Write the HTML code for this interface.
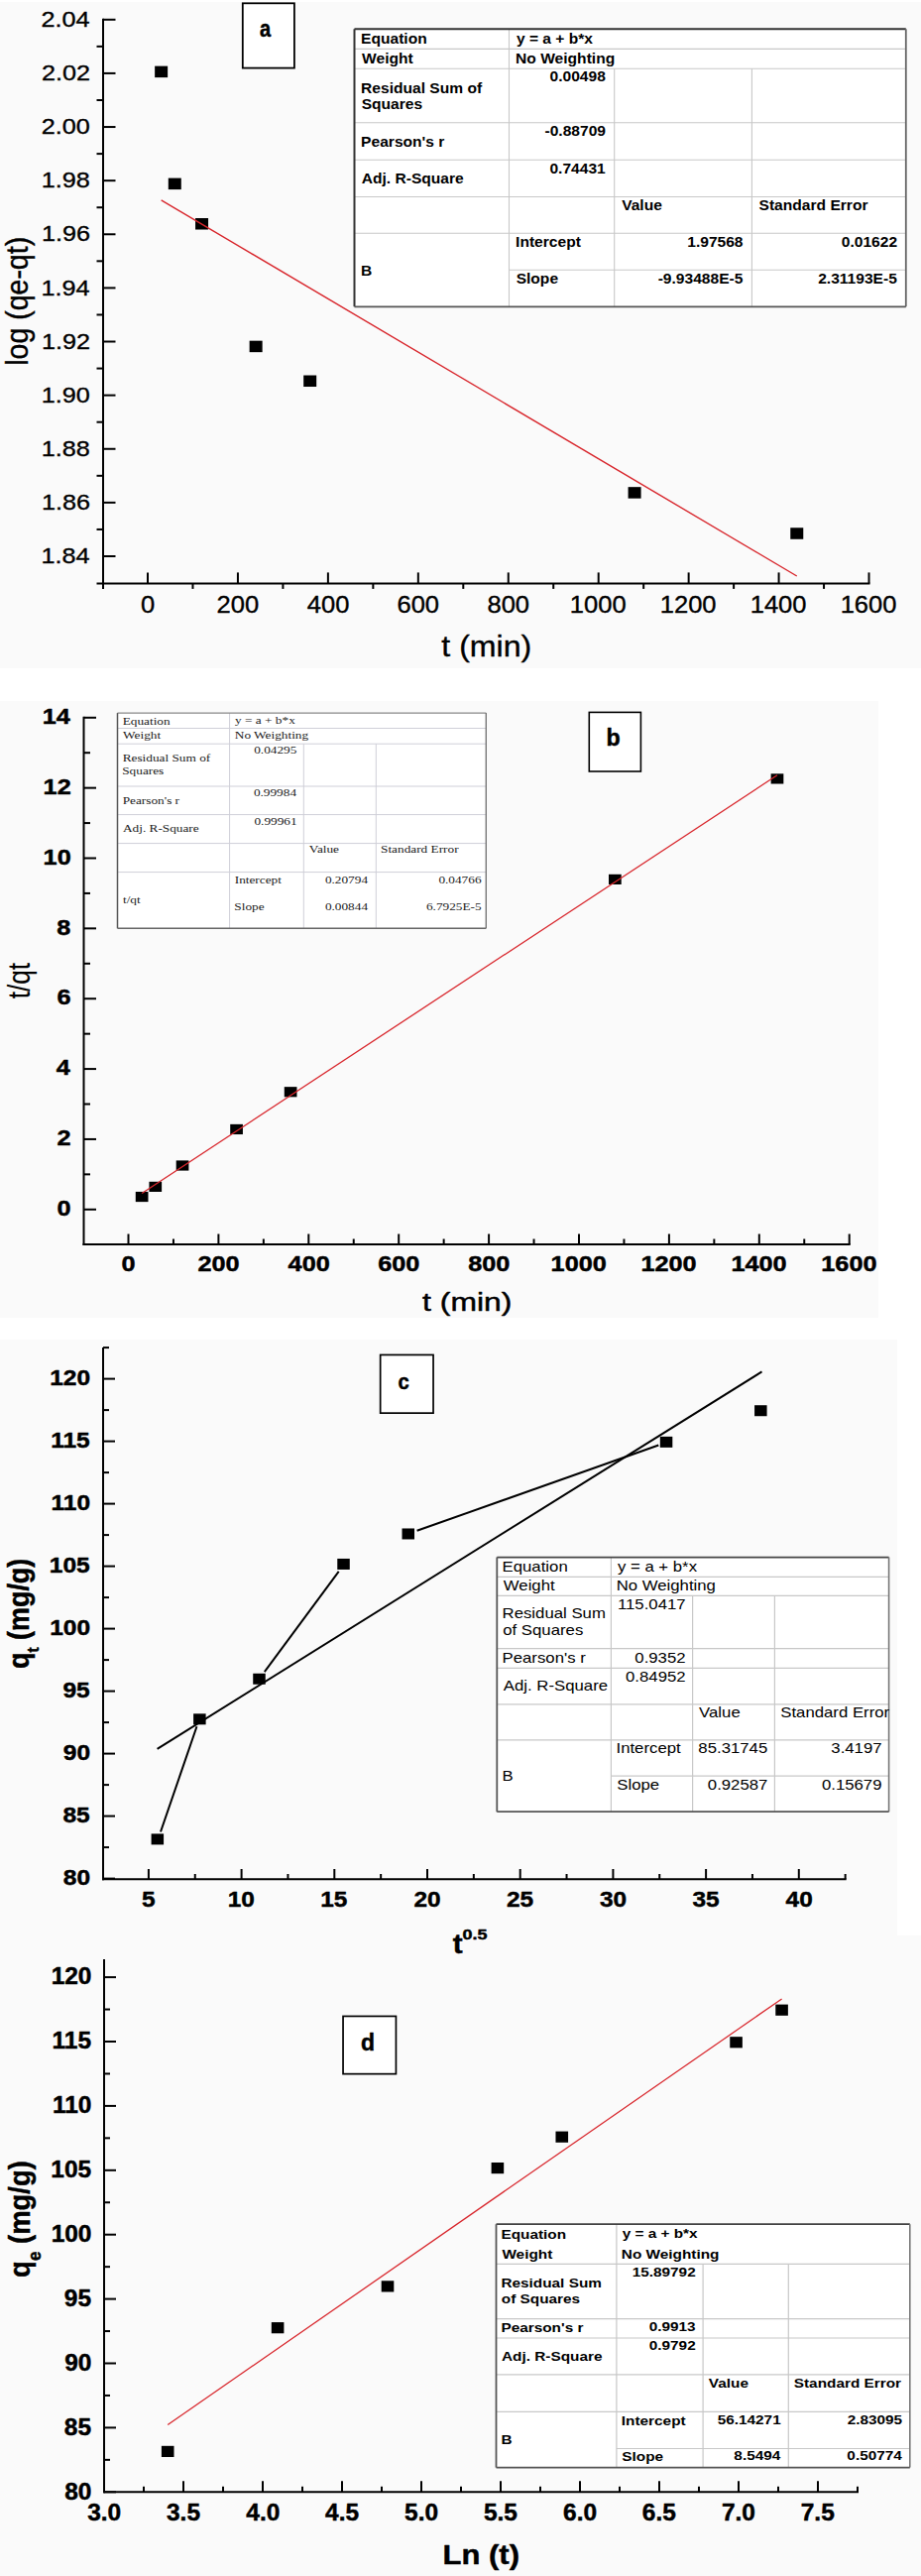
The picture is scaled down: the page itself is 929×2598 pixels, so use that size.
<!DOCTYPE html>
<html><head><meta charset="utf-8"><title>Kinetic model plots</title>
<style>
html,body{margin:0;padding:0;background:#fff;}
body{width:929px;height:2598px;overflow:hidden;font-family:"Liberation Sans", sans-serif;}
svg{display:block;}
</style></head>
<body>
<svg width="929" height="2598" viewBox="0 0 929 2598">
<rect x="0.00" y="2.00" width="929.00" height="672.00" fill="#fafafa"/>
<rect x="0.00" y="707.00" width="886.00" height="622.00" fill="#fafafa"/>
<rect x="0.00" y="1351.00" width="905.00" height="601.00" fill="#fafafa"/>
<rect x="0.00" y="1952.00" width="929.00" height="646.00" fill="#fafafa"/>
<line x1="104.00" y1="18.80" x2="104.00" y2="593.90" stroke="#000" stroke-width="2"/>
<line x1="97.50" y1="588.40" x2="877.52" y2="588.40" stroke="#000" stroke-width="2"/>
<line x1="104.00" y1="561.00" x2="116.50" y2="561.00" stroke="#000" stroke-width="2"/>
<text transform="translate(41.54,568.11) scale(1.1150,1)" font-family='"Liberation Sans", sans-serif' font-size="22.60" stroke="#000" stroke-width="0.35" stroke-linejoin="round" fill="#000">1.84</text>
<line x1="104.00" y1="506.88" x2="116.50" y2="506.88" stroke="#000" stroke-width="2"/>
<text transform="translate(41.92,513.99) scale(1.1150,1)" font-family='"Liberation Sans", sans-serif' font-size="22.60" stroke="#000" stroke-width="0.35" stroke-linejoin="round" fill="#000">1.86</text>
<line x1="104.00" y1="452.76" x2="116.50" y2="452.76" stroke="#000" stroke-width="2"/>
<text transform="translate(41.80,459.87) scale(1.1150,1)" font-family='"Liberation Sans", sans-serif' font-size="22.60" stroke="#000" stroke-width="0.35" stroke-linejoin="round" fill="#000">1.88</text>
<line x1="104.00" y1="398.64" x2="116.50" y2="398.64" stroke="#000" stroke-width="2"/>
<text transform="translate(41.80,405.75) scale(1.1150,1)" font-family='"Liberation Sans", sans-serif' font-size="22.60" stroke="#000" stroke-width="0.35" stroke-linejoin="round" fill="#000">1.90</text>
<line x1="104.00" y1="344.52" x2="116.50" y2="344.52" stroke="#000" stroke-width="2"/>
<text transform="translate(42.05,351.63) scale(1.1150,1)" font-family='"Liberation Sans", sans-serif' font-size="22.60" stroke="#000" stroke-width="0.35" stroke-linejoin="round" fill="#000">1.92</text>
<line x1="104.00" y1="290.40" x2="116.50" y2="290.40" stroke="#000" stroke-width="2"/>
<text transform="translate(41.54,297.51) scale(1.1150,1)" font-family='"Liberation Sans", sans-serif' font-size="22.60" stroke="#000" stroke-width="0.35" stroke-linejoin="round" fill="#000">1.94</text>
<line x1="104.00" y1="236.28" x2="116.50" y2="236.28" stroke="#000" stroke-width="2"/>
<text transform="translate(41.92,243.39) scale(1.1150,1)" font-family='"Liberation Sans", sans-serif' font-size="22.60" stroke="#000" stroke-width="0.35" stroke-linejoin="round" fill="#000">1.96</text>
<line x1="104.00" y1="182.16" x2="116.50" y2="182.16" stroke="#000" stroke-width="2"/>
<text transform="translate(41.80,189.27) scale(1.1150,1)" font-family='"Liberation Sans", sans-serif' font-size="22.60" stroke="#000" stroke-width="0.35" stroke-linejoin="round" fill="#000">1.98</text>
<line x1="104.00" y1="128.04" x2="116.50" y2="128.04" stroke="#000" stroke-width="2"/>
<text transform="translate(41.80,135.15) scale(1.1150,1)" font-family='"Liberation Sans", sans-serif' font-size="22.60" stroke="#000" stroke-width="0.35" stroke-linejoin="round" fill="#000">2.00</text>
<line x1="104.00" y1="73.92" x2="116.50" y2="73.92" stroke="#000" stroke-width="2"/>
<text transform="translate(42.05,81.03) scale(1.1150,1)" font-family='"Liberation Sans", sans-serif' font-size="22.60" stroke="#000" stroke-width="0.35" stroke-linejoin="round" fill="#000">2.02</text>
<line x1="104.00" y1="19.80" x2="116.50" y2="19.80" stroke="#000" stroke-width="2"/>
<text transform="translate(41.54,26.91) scale(1.1150,1)" font-family='"Liberation Sans", sans-serif' font-size="22.60" stroke="#000" stroke-width="0.35" stroke-linejoin="round" fill="#000">2.04</text>
<line x1="97.50" y1="533.94" x2="104.00" y2="533.94" stroke="#000" stroke-width="2"/>
<line x1="97.50" y1="479.82" x2="104.00" y2="479.82" stroke="#000" stroke-width="2"/>
<line x1="97.50" y1="425.70" x2="104.00" y2="425.70" stroke="#000" stroke-width="2"/>
<line x1="97.50" y1="371.58" x2="104.00" y2="371.58" stroke="#000" stroke-width="2"/>
<line x1="97.50" y1="317.46" x2="104.00" y2="317.46" stroke="#000" stroke-width="2"/>
<line x1="97.50" y1="263.34" x2="104.00" y2="263.34" stroke="#000" stroke-width="2"/>
<line x1="97.50" y1="209.22" x2="104.00" y2="209.22" stroke="#000" stroke-width="2"/>
<line x1="97.50" y1="155.10" x2="104.00" y2="155.10" stroke="#000" stroke-width="2"/>
<line x1="97.50" y1="100.98" x2="104.00" y2="100.98" stroke="#000" stroke-width="2"/>
<line x1="97.50" y1="46.86" x2="104.00" y2="46.86" stroke="#000" stroke-width="2"/>
<line x1="97.50" y1="-7.26" x2="104.00" y2="-7.26" stroke="#000" stroke-width="2"/>
<line x1="149.00" y1="588.40" x2="149.00" y2="577.40" stroke="#000" stroke-width="2"/>
<text transform="translate(141.92,618.30) scale(1.1000,1)" font-family='"Liberation Sans", sans-serif' font-size="23.20" stroke="#000" stroke-width="0.35" stroke-linejoin="round" fill="#000">0</text>
<line x1="239.94" y1="588.40" x2="239.94" y2="577.40" stroke="#000" stroke-width="2"/>
<text transform="translate(218.57,618.30) scale(1.1000,1)" font-family='"Liberation Sans", sans-serif' font-size="23.20" stroke="#000" stroke-width="0.35" stroke-linejoin="round" fill="#000">200</text>
<line x1="330.88" y1="588.40" x2="330.88" y2="577.40" stroke="#000" stroke-width="2"/>
<text transform="translate(309.83,618.30) scale(1.1000,1)" font-family='"Liberation Sans", sans-serif' font-size="23.20" stroke="#000" stroke-width="0.35" stroke-linejoin="round" fill="#000">400</text>
<line x1="421.82" y1="588.40" x2="421.82" y2="577.40" stroke="#000" stroke-width="2"/>
<text transform="translate(400.45,618.30) scale(1.1000,1)" font-family='"Liberation Sans", sans-serif' font-size="23.20" stroke="#000" stroke-width="0.35" stroke-linejoin="round" fill="#000">600</text>
<line x1="512.76" y1="588.40" x2="512.76" y2="577.40" stroke="#000" stroke-width="2"/>
<text transform="translate(491.45,618.30) scale(1.1000,1)" font-family='"Liberation Sans", sans-serif' font-size="23.20" stroke="#000" stroke-width="0.35" stroke-linejoin="round" fill="#000">800</text>
<line x1="603.70" y1="588.40" x2="603.70" y2="577.40" stroke="#000" stroke-width="2"/>
<text transform="translate(574.86,618.30) scale(1.1000,1)" font-family='"Liberation Sans", sans-serif' font-size="23.20" stroke="#000" stroke-width="0.35" stroke-linejoin="round" fill="#000">1000</text>
<line x1="694.64" y1="588.40" x2="694.64" y2="577.40" stroke="#000" stroke-width="2"/>
<text transform="translate(665.80,618.30) scale(1.1000,1)" font-family='"Liberation Sans", sans-serif' font-size="23.20" stroke="#000" stroke-width="0.35" stroke-linejoin="round" fill="#000">1200</text>
<line x1="785.58" y1="588.40" x2="785.58" y2="577.40" stroke="#000" stroke-width="2"/>
<text transform="translate(756.74,618.30) scale(1.1000,1)" font-family='"Liberation Sans", sans-serif' font-size="23.20" stroke="#000" stroke-width="0.35" stroke-linejoin="round" fill="#000">1400</text>
<line x1="876.52" y1="588.40" x2="876.52" y2="577.40" stroke="#000" stroke-width="2"/>
<text transform="translate(847.68,618.30) scale(1.1000,1)" font-family='"Liberation Sans", sans-serif' font-size="23.20" stroke="#000" stroke-width="0.35" stroke-linejoin="round" fill="#000">1600</text>
<line x1="194.47" y1="588.40" x2="194.47" y2="593.90" stroke="#000" stroke-width="2"/>
<line x1="285.41" y1="588.40" x2="285.41" y2="593.90" stroke="#000" stroke-width="2"/>
<line x1="376.35" y1="588.40" x2="376.35" y2="593.90" stroke="#000" stroke-width="2"/>
<line x1="467.29" y1="588.40" x2="467.29" y2="593.90" stroke="#000" stroke-width="2"/>
<line x1="558.23" y1="588.40" x2="558.23" y2="593.90" stroke="#000" stroke-width="2"/>
<line x1="649.17" y1="588.40" x2="649.17" y2="593.90" stroke="#000" stroke-width="2"/>
<line x1="740.11" y1="588.40" x2="740.11" y2="593.90" stroke="#000" stroke-width="2"/>
<line x1="831.05" y1="588.40" x2="831.05" y2="593.90" stroke="#000" stroke-width="2"/>
<text transform="translate(445.32,661.90) scale(1.1077,1)" font-family='"Liberation Sans", sans-serif' font-size="29.00" stroke="#000" stroke-width="0.35" stroke-linejoin="round" fill="#000">t (min)</text>
<text transform="translate(27.80,303.80) scale(1.0900,1) rotate(-90)" font-family='"Liberation Sans", sans-serif' font-size="28.50" stroke="#000" stroke-width="0.35" stroke-linejoin="round" text-anchor="middle" fill="#000">log (qe-qt)</text>
<rect x="156.14" y="66.63" width="13.00" height="11.50" fill="#000"/>
<rect x="169.78" y="179.60" width="13.00" height="11.50" fill="#000"/>
<rect x="197.06" y="220.02" width="13.00" height="11.50" fill="#000"/>
<rect x="251.63" y="343.67" width="13.00" height="11.50" fill="#000"/>
<rect x="306.19" y="378.52" width="13.00" height="11.50" fill="#000"/>
<rect x="633.58" y="491.17" width="13.00" height="11.50" fill="#000"/>
<rect x="797.27" y="532.26" width="13.00" height="11.50" fill="#000"/>
<line x1="162.64" y1="201.92" x2="803.77" y2="580.98" stroke="#d8262c" stroke-width="1.4"/>
<rect x="244.80" y="3.30" width="52.10" height="65.30" fill="#fff" stroke="#000" stroke-width="1.8"/>
<text transform="translate(262.00,37.00) scale(0.8120,1)" font-family='"Liberation Sans", sans-serif' font-size="24.63" font-weight="bold" stroke="#000" stroke-width="0.5" stroke-linejoin="round" fill="#000">a</text>
<rect x="357.50" y="29.30" width="556.30" height="280.00" fill="#fff"/>
<line x1="357.50" y1="49.40" x2="913.80" y2="49.40" stroke="#c8c8c8" stroke-width="1.1"/>
<line x1="357.50" y1="69.30" x2="913.80" y2="69.30" stroke="#c8c8c8" stroke-width="1.1"/>
<line x1="357.50" y1="123.80" x2="913.80" y2="123.80" stroke="#c8c8c8" stroke-width="1.1"/>
<line x1="357.50" y1="161.30" x2="913.80" y2="161.30" stroke="#c8c8c8" stroke-width="1.1"/>
<line x1="357.50" y1="198.50" x2="913.80" y2="198.50" stroke="#c8c8c8" stroke-width="1.1"/>
<line x1="357.50" y1="235.20" x2="913.80" y2="235.20" stroke="#c8c8c8" stroke-width="1.1"/>
<line x1="513.50" y1="272.20" x2="913.80" y2="272.20" stroke="#c8c8c8" stroke-width="1.1"/>
<line x1="513.50" y1="29.30" x2="513.50" y2="309.30" stroke="#c8c8c8" stroke-width="1.1"/>
<line x1="619.70" y1="69.30" x2="619.70" y2="309.30" stroke="#c8c8c8" stroke-width="1.1"/>
<line x1="758.40" y1="69.30" x2="758.40" y2="309.30" stroke="#c8c8c8" stroke-width="1.1"/>
<line x1="357.50" y1="29.30" x2="913.80" y2="29.30" stroke="#333" stroke-width="2"/>
<line x1="357.50" y1="29.30" x2="357.50" y2="309.30" stroke="#333" stroke-width="2"/>
<line x1="913.80" y1="29.30" x2="913.80" y2="309.30" stroke="#666" stroke-width="1.8"/>
<line x1="357.50" y1="309.30" x2="913.80" y2="309.30" stroke="#555" stroke-width="1.8"/>
<text transform="translate(364.09,44.40) scale(1.0750,1)" font-family='"Liberation Sans", sans-serif' font-size="14.50" font-weight="bold" fill="#000">Equation</text>
<text transform="translate(520.94,44.00) scale(1.0750,1)" font-family='"Liberation Sans", sans-serif' font-size="14.50" font-weight="bold" fill="#000">y = a + b*x</text>
<text transform="translate(365.10,64.10) scale(1.0750,1)" font-family='"Liberation Sans", sans-serif' font-size="14.50" font-weight="bold" fill="#000">Weight</text>
<text transform="translate(520.09,63.70) scale(1.0750,1)" font-family='"Liberation Sans", sans-serif' font-size="14.50" font-weight="bold" fill="#000">No Weighting</text>
<text transform="translate(364.09,93.60) scale(1.0750,1)" font-family='"Liberation Sans", sans-serif' font-size="14.50" font-weight="bold" fill="#000">Residual Sum of</text>
<text transform="translate(364.63,110.30) scale(1.0750,1)" font-family='"Liberation Sans", sans-serif' font-size="14.50" font-weight="bold" fill="#000">Squares</text>
<text transform="translate(554.52,82.30) scale(1.0750,1)" font-family='"Liberation Sans", sans-serif' font-size="14.50" font-weight="bold" fill="#000">0.00498</text>
<text transform="translate(364.09,147.60) scale(1.0750,1)" font-family='"Liberation Sans", sans-serif' font-size="14.50" font-weight="bold" fill="#000">Pearson&#39;s r</text>
<text transform="translate(549.45,137.00) scale(1.0750,1)" font-family='"Liberation Sans", sans-serif' font-size="14.50" font-weight="bold" fill="#000">-0.88709</text>
<text transform="translate(364.71,184.60) scale(1.0750,1)" font-family='"Liberation Sans", sans-serif' font-size="14.50" font-weight="bold" fill="#000">Adj. R-Square</text>
<text transform="translate(554.44,174.60) scale(1.0750,1)" font-family='"Liberation Sans", sans-serif' font-size="14.50" font-weight="bold" fill="#000">0.74431</text>
<text transform="translate(627.14,211.50) scale(1.0750,1)" font-family='"Liberation Sans", sans-serif' font-size="14.50" font-weight="bold" fill="#000">Value</text>
<text transform="translate(765.53,211.50) scale(1.0750,1)" font-family='"Liberation Sans", sans-serif' font-size="14.50" font-weight="bold" fill="#000">Standard Error</text>
<text transform="translate(520.09,248.60) scale(1.0750,1)" font-family='"Liberation Sans", sans-serif' font-size="14.50" font-weight="bold" fill="#000">Intercept</text>
<text transform="translate(693.22,248.60) scale(1.0750,1)" font-family='"Liberation Sans", sans-serif' font-size="14.50" font-weight="bold" fill="#000">1.97568</text>
<text transform="translate(848.77,248.60) scale(1.0750,1)" font-family='"Liberation Sans", sans-serif' font-size="14.50" font-weight="bold" fill="#000">0.01622</text>
<text transform="translate(364.09,277.60) scale(1.0750,1)" font-family='"Liberation Sans", sans-serif' font-size="14.50" font-weight="bold" fill="#000">B</text>
<text transform="translate(520.63,285.60) scale(1.0750,1)" font-family='"Liberation Sans", sans-serif' font-size="14.50" font-weight="bold" fill="#000">Slope</text>
<text transform="translate(663.68,285.60) scale(1.0750,1)" font-family='"Liberation Sans", sans-serif' font-size="14.50" font-weight="bold" fill="#000">-9.93488E-5</text>
<text transform="translate(825.16,285.60) scale(1.0750,1)" font-family='"Liberation Sans", sans-serif' font-size="14.50" font-weight="bold" fill="#000">2.31193E-5</text>
<line x1="84.50" y1="722.78" x2="84.50" y2="1256.00" stroke="#000" stroke-width="2"/>
<line x1="83.50" y1="1255.00" x2="857.70" y2="1255.00" stroke="#000" stroke-width="2"/>
<line x1="84.50" y1="1219.80" x2="97.00" y2="1219.80" stroke="#000" stroke-width="2"/>
<text transform="translate(57.61,1226.02) scale(1.1900,1)" font-family='"Liberation Sans", sans-serif' font-size="21.20" font-weight="bold" stroke="#000" stroke-width="0.45" stroke-linejoin="round" fill="#000">0</text>
<line x1="84.50" y1="1148.94" x2="97.00" y2="1148.94" stroke="#000" stroke-width="2"/>
<text transform="translate(57.61,1155.16) scale(1.1900,1)" font-family='"Liberation Sans", sans-serif' font-size="21.20" font-weight="bold" stroke="#000" stroke-width="0.45" stroke-linejoin="round" fill="#000">2</text>
<line x1="84.50" y1="1078.08" x2="97.00" y2="1078.08" stroke="#000" stroke-width="2"/>
<text transform="translate(56.72,1084.30) scale(1.1900,1)" font-family='"Liberation Sans", sans-serif' font-size="21.20" font-weight="bold" stroke="#000" stroke-width="0.45" stroke-linejoin="round" fill="#000">4</text>
<line x1="84.50" y1="1007.22" x2="97.00" y2="1007.22" stroke="#000" stroke-width="2"/>
<text transform="translate(57.48,1013.44) scale(1.1900,1)" font-family='"Liberation Sans", sans-serif' font-size="21.20" font-weight="bold" stroke="#000" stroke-width="0.45" stroke-linejoin="round" fill="#000">6</text>
<line x1="84.50" y1="936.36" x2="97.00" y2="936.36" stroke="#000" stroke-width="2"/>
<text transform="translate(57.36,942.58) scale(1.1900,1)" font-family='"Liberation Sans", sans-serif' font-size="21.20" font-weight="bold" stroke="#000" stroke-width="0.45" stroke-linejoin="round" fill="#000">8</text>
<line x1="84.50" y1="865.50" x2="97.00" y2="865.50" stroke="#000" stroke-width="2"/>
<text transform="translate(43.61,871.72) scale(1.1900,1)" font-family='"Liberation Sans", sans-serif' font-size="21.20" font-weight="bold" stroke="#000" stroke-width="0.45" stroke-linejoin="round" fill="#000">10</text>
<line x1="84.50" y1="794.64" x2="97.00" y2="794.64" stroke="#000" stroke-width="2"/>
<text transform="translate(43.61,800.86) scale(1.1900,1)" font-family='"Liberation Sans", sans-serif' font-size="21.20" font-weight="bold" stroke="#000" stroke-width="0.45" stroke-linejoin="round" fill="#000">12</text>
<line x1="84.50" y1="723.78" x2="97.00" y2="723.78" stroke="#000" stroke-width="2"/>
<text transform="translate(42.72,730.00) scale(1.1900,1)" font-family='"Liberation Sans", sans-serif' font-size="21.20" font-weight="bold" stroke="#000" stroke-width="0.45" stroke-linejoin="round" fill="#000">14</text>
<line x1="84.50" y1="1184.37" x2="91.00" y2="1184.37" stroke="#000" stroke-width="2"/>
<line x1="84.50" y1="1113.51" x2="91.00" y2="1113.51" stroke="#000" stroke-width="2"/>
<line x1="84.50" y1="1042.65" x2="91.00" y2="1042.65" stroke="#000" stroke-width="2"/>
<line x1="84.50" y1="971.79" x2="91.00" y2="971.79" stroke="#000" stroke-width="2"/>
<line x1="84.50" y1="900.93" x2="91.00" y2="900.93" stroke="#000" stroke-width="2"/>
<line x1="84.50" y1="830.07" x2="91.00" y2="830.07" stroke="#000" stroke-width="2"/>
<line x1="84.50" y1="759.21" x2="91.00" y2="759.21" stroke="#000" stroke-width="2"/>
<line x1="129.50" y1="1255.00" x2="129.50" y2="1244.50" stroke="#000" stroke-width="2"/>
<text transform="translate(122.50,1282.00) scale(1.1900,1)" font-family='"Liberation Sans", sans-serif' font-size="21.20" font-weight="bold" stroke="#000" stroke-width="0.45" stroke-linejoin="round" fill="#000">0</text>
<line x1="220.40" y1="1255.00" x2="220.40" y2="1244.50" stroke="#000" stroke-width="2"/>
<text transform="translate(199.46,1282.00) scale(1.1900,1)" font-family='"Liberation Sans", sans-serif' font-size="21.20" font-weight="bold" stroke="#000" stroke-width="0.45" stroke-linejoin="round" fill="#000">200</text>
<line x1="311.30" y1="1255.00" x2="311.30" y2="1244.50" stroke="#000" stroke-width="2"/>
<text transform="translate(290.61,1282.00) scale(1.1900,1)" font-family='"Liberation Sans", sans-serif' font-size="21.20" font-weight="bold" stroke="#000" stroke-width="0.45" stroke-linejoin="round" fill="#000">400</text>
<line x1="402.20" y1="1255.00" x2="402.20" y2="1244.50" stroke="#000" stroke-width="2"/>
<text transform="translate(381.26,1282.00) scale(1.1900,1)" font-family='"Liberation Sans", sans-serif' font-size="21.20" font-weight="bold" stroke="#000" stroke-width="0.45" stroke-linejoin="round" fill="#000">600</text>
<line x1="493.10" y1="1255.00" x2="493.10" y2="1244.50" stroke="#000" stroke-width="2"/>
<text transform="translate(472.22,1282.00) scale(1.1900,1)" font-family='"Liberation Sans", sans-serif' font-size="21.20" font-weight="bold" stroke="#000" stroke-width="0.45" stroke-linejoin="round" fill="#000">800</text>
<line x1="584.00" y1="1255.00" x2="584.00" y2="1244.50" stroke="#000" stroke-width="2"/>
<text transform="translate(555.62,1282.00) scale(1.1900,1)" font-family='"Liberation Sans", sans-serif' font-size="21.20" font-weight="bold" stroke="#000" stroke-width="0.45" stroke-linejoin="round" fill="#000">1000</text>
<line x1="674.90" y1="1255.00" x2="674.90" y2="1244.50" stroke="#000" stroke-width="2"/>
<text transform="translate(646.52,1282.00) scale(1.1900,1)" font-family='"Liberation Sans", sans-serif' font-size="21.20" font-weight="bold" stroke="#000" stroke-width="0.45" stroke-linejoin="round" fill="#000">1200</text>
<line x1="765.80" y1="1255.00" x2="765.80" y2="1244.50" stroke="#000" stroke-width="2"/>
<text transform="translate(737.42,1282.00) scale(1.1900,1)" font-family='"Liberation Sans", sans-serif' font-size="21.20" font-weight="bold" stroke="#000" stroke-width="0.45" stroke-linejoin="round" fill="#000">1400</text>
<line x1="856.70" y1="1255.00" x2="856.70" y2="1244.50" stroke="#000" stroke-width="2"/>
<text transform="translate(828.32,1282.00) scale(1.1900,1)" font-family='"Liberation Sans", sans-serif' font-size="21.20" font-weight="bold" stroke="#000" stroke-width="0.45" stroke-linejoin="round" fill="#000">1600</text>
<line x1="174.95" y1="1255.00" x2="174.95" y2="1249.50" stroke="#000" stroke-width="2"/>
<line x1="265.85" y1="1255.00" x2="265.85" y2="1249.50" stroke="#000" stroke-width="2"/>
<line x1="356.75" y1="1255.00" x2="356.75" y2="1249.50" stroke="#000" stroke-width="2"/>
<line x1="447.65" y1="1255.00" x2="447.65" y2="1249.50" stroke="#000" stroke-width="2"/>
<line x1="538.55" y1="1255.00" x2="538.55" y2="1249.50" stroke="#000" stroke-width="2"/>
<line x1="629.45" y1="1255.00" x2="629.45" y2="1249.50" stroke="#000" stroke-width="2"/>
<line x1="720.35" y1="1255.00" x2="720.35" y2="1249.50" stroke="#000" stroke-width="2"/>
<line x1="811.25" y1="1255.00" x2="811.25" y2="1249.50" stroke="#000" stroke-width="2"/>
<text transform="translate(426.12,1322.30) scale(1.2533,1)" font-family='"Liberation Sans", sans-serif' font-size="25.40" stroke="#000" stroke-width="0.45" stroke-linejoin="round" fill="#000">t (min)</text>
<text transform="translate(29.60,989.10) scale(1.1800,1) rotate(-90)" font-family='"Liberation Sans", sans-serif' font-size="26.10" stroke="#000" stroke-width="0.15" stroke-linejoin="round" text-anchor="middle" fill="#000">t/qt</text>
<rect x="136.78" y="1201.92" width="12.70" height="10.20" fill="#000"/>
<rect x="150.42" y="1191.78" width="12.70" height="10.20" fill="#000"/>
<rect x="177.69" y="1170.40" width="12.70" height="10.20" fill="#000"/>
<rect x="232.23" y="1133.85" width="12.70" height="10.20" fill="#000"/>
<rect x="286.77" y="1096.15" width="12.70" height="10.20" fill="#000"/>
<rect x="614.01" y="881.79" width="12.70" height="10.20" fill="#000"/>
<rect x="777.63" y="780.31" width="12.70" height="10.20" fill="#000"/>
<line x1="143.13" y1="1203.46" x2="783.98" y2="781.83" stroke="#d8262c" stroke-width="1.3"/>
<rect x="594.30" y="718.40" width="52.10" height="59.60" fill="#fff" stroke="#000" stroke-width="1.6"/>
<text transform="translate(611.49,752.00) scale(0.9621,1)" font-family='"Liberation Sans", sans-serif' font-size="24.08" font-weight="bold" stroke="#000" stroke-width="0.5" stroke-linejoin="round" fill="#000">b</text>
<rect x="118.50" y="719.10" width="371.80" height="217.20" fill="#fff"/>
<line x1="118.50" y1="734.50" x2="490.30" y2="734.50" stroke="#cfcfd8" stroke-width="1.0"/>
<line x1="118.50" y1="750.20" x2="490.30" y2="750.20" stroke="#cfcfd8" stroke-width="1.0"/>
<line x1="118.50" y1="793.00" x2="490.30" y2="793.00" stroke="#cfcfd8" stroke-width="1.0"/>
<line x1="118.50" y1="821.60" x2="490.30" y2="821.60" stroke="#cfcfd8" stroke-width="1.0"/>
<line x1="118.50" y1="850.60" x2="490.30" y2="850.60" stroke="#cfcfd8" stroke-width="1.0"/>
<line x1="118.50" y1="879.60" x2="490.30" y2="879.60" stroke="#cfcfd8" stroke-width="1.0"/>
<line x1="231.60" y1="719.10" x2="231.60" y2="936.30" stroke="#cfcfd8" stroke-width="1.0"/>
<line x1="306.30" y1="750.20" x2="306.30" y2="936.30" stroke="#cfcfd8" stroke-width="1.0"/>
<line x1="379.30" y1="750.20" x2="379.30" y2="936.30" stroke="#cfcfd8" stroke-width="1.0"/>
<line x1="118.50" y1="719.10" x2="490.30" y2="719.10" stroke="#888" stroke-width="1.4"/>
<line x1="118.50" y1="719.10" x2="118.50" y2="936.30" stroke="#555" stroke-width="1.5"/>
<line x1="490.30" y1="719.10" x2="490.30" y2="936.30" stroke="#777" stroke-width="1.4"/>
<line x1="118.50" y1="936.30" x2="490.30" y2="936.30" stroke="#666" stroke-width="1.5"/>
<text transform="translate(123.70,730.60) scale(1.2200,1)" font-family='"Liberation Serif", serif' font-size="10.90" fill="#1a1a1a">Equation</text>
<text transform="translate(237.07,730.20) scale(1.2200,1)" font-family='"Liberation Serif", serif' font-size="10.90" fill="#1a1a1a">y = a + b*x</text>
<text transform="translate(124.10,745.40) scale(1.2200,1)" font-family='"Liberation Serif", serif' font-size="10.90" fill="#1a1a1a">Weight</text>
<text transform="translate(236.80,745.00) scale(1.2200,1)" font-family='"Liberation Serif", serif' font-size="10.90" fill="#1a1a1a">No Weighting</text>
<text transform="translate(123.70,768.20) scale(1.2200,1)" font-family='"Liberation Serif", serif' font-size="10.90" fill="#1a1a1a">Residual Sum of</text>
<text transform="translate(123.24,780.60) scale(1.2200,1)" font-family='"Liberation Serif", serif' font-size="10.90" fill="#1a1a1a">Squares</text>
<text transform="translate(256.21,759.60) scale(1.2200,1)" font-family='"Liberation Serif", serif' font-size="10.90" fill="#1a1a1a">0.04295</text>
<text transform="translate(123.70,810.50) scale(1.2200,1)" font-family='"Liberation Serif", serif' font-size="10.90" fill="#1a1a1a">Pearson&#39;s r</text>
<text transform="translate(255.88,803.00) scale(1.2200,1)" font-family='"Liberation Serif", serif' font-size="10.90" fill="#1a1a1a">0.99984</text>
<text transform="translate(123.97,838.80) scale(1.2200,1)" font-family='"Liberation Serif", serif' font-size="10.90" fill="#1a1a1a">Adj. R-Square</text>
<text transform="translate(256.48,831.80) scale(1.2200,1)" font-family='"Liberation Serif", serif' font-size="10.90" fill="#1a1a1a">0.99961</text>
<text transform="translate(311.77,860.00) scale(1.2200,1)" font-family='"Liberation Serif", serif' font-size="10.90" fill="#1a1a1a">Value</text>
<text transform="translate(384.04,860.00) scale(1.2200,1)" font-family='"Liberation Serif", serif' font-size="10.90" fill="#1a1a1a">Standard Error</text>
<text transform="translate(236.73,890.50) scale(1.2200,1)" font-family='"Liberation Serif", serif' font-size="10.90" fill="#1a1a1a">Intercept</text>
<text transform="translate(327.88,890.50) scale(1.2200,1)" font-family='"Liberation Serif", serif' font-size="10.90" fill="#1a1a1a">0.20794</text>
<text transform="translate(442.38,890.50) scale(1.2200,1)" font-family='"Liberation Serif", serif' font-size="10.90" fill="#1a1a1a">0.04766</text>
<text transform="translate(123.97,911.00) scale(1.2200,1)" font-family='"Liberation Serif", serif' font-size="10.90" fill="#1a1a1a">t/qt</text>
<text transform="translate(236.34,918.20) scale(1.2200,1)" font-family='"Liberation Serif", serif' font-size="10.90" fill="#1a1a1a">Slope</text>
<text transform="translate(327.88,918.20) scale(1.2200,1)" font-family='"Liberation Serif", serif' font-size="10.90" fill="#1a1a1a">0.00844</text>
<text transform="translate(429.95,918.20) scale(1.2200,1)" font-family='"Liberation Serif", serif' font-size="10.90" fill="#1a1a1a">6.7925E-5</text>
<line x1="104.00" y1="1359.10" x2="104.00" y2="1896.20" stroke="#000" stroke-width="2"/>
<line x1="103.00" y1="1895.20" x2="853.65" y2="1895.20" stroke="#000" stroke-width="2"/>
<line x1="104.00" y1="1894.60" x2="116.00" y2="1894.60" stroke="#000" stroke-width="2"/>
<text transform="translate(63.77,1901.03) scale(1.1400,1)" font-family='"Liberation Sans", sans-serif' font-size="21.50" font-weight="bold" stroke="#000" stroke-width="0.45" stroke-linejoin="round" fill="#000">80</text>
<line x1="104.00" y1="1831.60" x2="116.00" y2="1831.60" stroke="#000" stroke-width="2"/>
<text transform="translate(63.41,1838.03) scale(1.1400,1)" font-family='"Liberation Sans", sans-serif' font-size="21.50" font-weight="bold" stroke="#000" stroke-width="0.45" stroke-linejoin="round" fill="#000">85</text>
<line x1="104.00" y1="1768.60" x2="116.00" y2="1768.60" stroke="#000" stroke-width="2"/>
<text transform="translate(63.77,1775.03) scale(1.1400,1)" font-family='"Liberation Sans", sans-serif' font-size="21.50" font-weight="bold" stroke="#000" stroke-width="0.45" stroke-linejoin="round" fill="#000">90</text>
<line x1="104.00" y1="1705.60" x2="116.00" y2="1705.60" stroke="#000" stroke-width="2"/>
<text transform="translate(63.41,1712.03) scale(1.1400,1)" font-family='"Liberation Sans", sans-serif' font-size="21.50" font-weight="bold" stroke="#000" stroke-width="0.45" stroke-linejoin="round" fill="#000">95</text>
<line x1="104.00" y1="1642.60" x2="116.00" y2="1642.60" stroke="#000" stroke-width="2"/>
<text transform="translate(50.17,1649.03) scale(1.1400,1)" font-family='"Liberation Sans", sans-serif' font-size="21.50" font-weight="bold" stroke="#000" stroke-width="0.45" stroke-linejoin="round" fill="#000">100</text>
<line x1="104.00" y1="1579.60" x2="116.00" y2="1579.60" stroke="#000" stroke-width="2"/>
<text transform="translate(49.80,1586.03) scale(1.1400,1)" font-family='"Liberation Sans", sans-serif' font-size="21.50" font-weight="bold" stroke="#000" stroke-width="0.45" stroke-linejoin="round" fill="#000">105</text>
<line x1="104.00" y1="1516.60" x2="116.00" y2="1516.60" stroke="#000" stroke-width="2"/>
<text transform="translate(51.52,1523.03) scale(1.1400,1)" font-family='"Liberation Sans", sans-serif' font-size="21.50" font-weight="bold" stroke="#000" stroke-width="0.45" stroke-linejoin="round" fill="#000">110</text>
<line x1="104.00" y1="1453.60" x2="116.00" y2="1453.60" stroke="#000" stroke-width="2"/>
<text transform="translate(51.15,1460.03) scale(1.1400,1)" font-family='"Liberation Sans", sans-serif' font-size="21.50" font-weight="bold" stroke="#000" stroke-width="0.45" stroke-linejoin="round" fill="#000">115</text>
<line x1="104.00" y1="1390.60" x2="116.00" y2="1390.60" stroke="#000" stroke-width="2"/>
<text transform="translate(50.17,1397.03) scale(1.1400,1)" font-family='"Liberation Sans", sans-serif' font-size="21.50" font-weight="bold" stroke="#000" stroke-width="0.45" stroke-linejoin="round" fill="#000">120</text>
<line x1="104.00" y1="1863.10" x2="110.00" y2="1863.10" stroke="#000" stroke-width="2"/>
<line x1="104.00" y1="1800.10" x2="110.00" y2="1800.10" stroke="#000" stroke-width="2"/>
<line x1="104.00" y1="1737.10" x2="110.00" y2="1737.10" stroke="#000" stroke-width="2"/>
<line x1="104.00" y1="1674.10" x2="110.00" y2="1674.10" stroke="#000" stroke-width="2"/>
<line x1="104.00" y1="1611.10" x2="110.00" y2="1611.10" stroke="#000" stroke-width="2"/>
<line x1="104.00" y1="1548.10" x2="110.00" y2="1548.10" stroke="#000" stroke-width="2"/>
<line x1="104.00" y1="1485.10" x2="110.00" y2="1485.10" stroke="#000" stroke-width="2"/>
<line x1="104.00" y1="1422.10" x2="110.00" y2="1422.10" stroke="#000" stroke-width="2"/>
<line x1="104.00" y1="1359.10" x2="110.00" y2="1359.10" stroke="#000" stroke-width="2"/>
<line x1="149.90" y1="1895.20" x2="149.90" y2="1885.00" stroke="#000" stroke-width="2"/>
<text transform="translate(143.07,1923.30) scale(1.0800,1)" font-family='"Liberation Sans", sans-serif' font-size="22.60" font-weight="bold" stroke="#000" stroke-width="0.45" stroke-linejoin="round" fill="#000">5</text>
<line x1="243.60" y1="1895.20" x2="243.60" y2="1885.00" stroke="#000" stroke-width="2"/>
<text transform="translate(229.75,1923.30) scale(1.0800,1)" font-family='"Liberation Sans", sans-serif' font-size="22.60" font-weight="bold" stroke="#000" stroke-width="0.45" stroke-linejoin="round" fill="#000">10</text>
<line x1="337.30" y1="1895.20" x2="337.30" y2="1885.00" stroke="#000" stroke-width="2"/>
<text transform="translate(323.27,1923.30) scale(1.0800,1)" font-family='"Liberation Sans", sans-serif' font-size="22.60" font-weight="bold" stroke="#000" stroke-width="0.45" stroke-linejoin="round" fill="#000">15</text>
<line x1="431.00" y1="1895.20" x2="431.00" y2="1885.00" stroke="#000" stroke-width="2"/>
<text transform="translate(417.51,1923.30) scale(1.0800,1)" font-family='"Liberation Sans", sans-serif' font-size="22.60" font-weight="bold" stroke="#000" stroke-width="0.45" stroke-linejoin="round" fill="#000">20</text>
<line x1="524.70" y1="1895.20" x2="524.70" y2="1885.00" stroke="#000" stroke-width="2"/>
<text transform="translate(511.03,1923.30) scale(1.0800,1)" font-family='"Liberation Sans", sans-serif' font-size="22.60" font-weight="bold" stroke="#000" stroke-width="0.45" stroke-linejoin="round" fill="#000">25</text>
<line x1="618.40" y1="1895.20" x2="618.40" y2="1885.00" stroke="#000" stroke-width="2"/>
<text transform="translate(605.04,1923.30) scale(1.0800,1)" font-family='"Liberation Sans", sans-serif' font-size="22.60" font-weight="bold" stroke="#000" stroke-width="0.45" stroke-linejoin="round" fill="#000">30</text>
<line x1="712.10" y1="1895.20" x2="712.10" y2="1885.00" stroke="#000" stroke-width="2"/>
<text transform="translate(698.55,1923.30) scale(1.0800,1)" font-family='"Liberation Sans", sans-serif' font-size="22.60" font-weight="bold" stroke="#000" stroke-width="0.45" stroke-linejoin="round" fill="#000">35</text>
<line x1="805.80" y1="1895.20" x2="805.80" y2="1885.00" stroke="#000" stroke-width="2"/>
<text transform="translate(792.56,1923.30) scale(1.0800,1)" font-family='"Liberation Sans", sans-serif' font-size="22.60" font-weight="bold" stroke="#000" stroke-width="0.45" stroke-linejoin="round" fill="#000">40</text>
<line x1="196.75" y1="1895.20" x2="196.75" y2="1890.00" stroke="#000" stroke-width="2"/>
<line x1="290.45" y1="1895.20" x2="290.45" y2="1890.00" stroke="#000" stroke-width="2"/>
<line x1="384.15" y1="1895.20" x2="384.15" y2="1890.00" stroke="#000" stroke-width="2"/>
<line x1="477.85" y1="1895.20" x2="477.85" y2="1890.00" stroke="#000" stroke-width="2"/>
<line x1="571.55" y1="1895.20" x2="571.55" y2="1890.00" stroke="#000" stroke-width="2"/>
<line x1="665.25" y1="1895.20" x2="665.25" y2="1890.00" stroke="#000" stroke-width="2"/>
<line x1="758.95" y1="1895.20" x2="758.95" y2="1890.00" stroke="#000" stroke-width="2"/>
<line x1="852.65" y1="1895.20" x2="852.65" y2="1890.00" stroke="#000" stroke-width="2"/>
<text transform="translate(456.80,1970.00) scale(1.0784,1)" font-family='"Liberation Sans", sans-serif' font-size="27.52" font-weight="bold" stroke="#000" stroke-width="0.45" stroke-linejoin="round" fill="#000">t</text>
<text transform="translate(466.48,1956.40) scale(1.2146,1)" font-family='"Liberation Sans", sans-serif' font-size="14.79" font-weight="bold" stroke="#000" stroke-width="0.45" stroke-linejoin="round" fill="#000">0.5</text>
<text transform="translate(28.70,1682.90) scale(1.1200,1) rotate(-90)" font-family='"Liberation Sans", sans-serif' font-size="26.90" font-weight="bold" stroke="#000" stroke-width="0.45" stroke-linejoin="round" fill="#000">q<tspan font-size="15.3" dy="9.2">t</tspan><tspan dy="-9.2"> (mg/g)</tspan></text>
<line x1="162.00" y1="1847.50" x2="198.50" y2="1741.20" stroke="#000" stroke-width="2.0"/>
<line x1="266.80" y1="1686.10" x2="341.70" y2="1584.90" stroke="#000" stroke-width="2.0"/>
<line x1="420.60" y1="1543.80" x2="664.30" y2="1457.50" stroke="#000" stroke-width="2.0"/>
<line x1="158.60" y1="1763.90" x2="768.50" y2="1383.40" stroke="#000" stroke-width="2.0"/>
<rect x="152.59" y="1849.41" width="12.50" height="11.00" fill="#000"/>
<rect x="195.11" y="1728.32" width="12.50" height="11.00" fill="#000"/>
<rect x="255.24" y="1687.75" width="12.50" height="11.00" fill="#000"/>
<rect x="340.27" y="1571.96" width="12.50" height="11.00" fill="#000"/>
<rect x="405.52" y="1541.47" width="12.50" height="11.00" fill="#000"/>
<rect x="665.81" y="1448.86" width="12.50" height="11.00" fill="#000"/>
<rect x="761.08" y="1417.23" width="12.50" height="11.00" fill="#000"/>
<rect x="383.65" y="1366.45" width="53.40" height="58.70" fill="#fff" stroke="#000" stroke-width="1.7"/>
<text transform="translate(401.59,1400.80) scale(0.8891,1)" font-family='"Liberation Sans", sans-serif' font-size="22.73" font-weight="bold" stroke="#000" stroke-width="0.5" stroke-linejoin="round" fill="#000">c</text>
<rect x="501.30" y="1570.60" width="395.30" height="256.60" fill="#fff"/>
<line x1="501.30" y1="1590.30" x2="896.60" y2="1590.30" stroke="#c8c8c8" stroke-width="1.2"/>
<line x1="501.30" y1="1609.40" x2="896.60" y2="1609.40" stroke="#c8c8c8" stroke-width="1.2"/>
<line x1="501.30" y1="1662.60" x2="896.60" y2="1662.60" stroke="#c8c8c8" stroke-width="1.2"/>
<line x1="501.30" y1="1682.40" x2="896.60" y2="1682.40" stroke="#c8c8c8" stroke-width="1.2"/>
<line x1="501.30" y1="1718.80" x2="896.60" y2="1718.80" stroke="#c8c8c8" stroke-width="1.2"/>
<line x1="501.30" y1="1754.80" x2="896.60" y2="1754.80" stroke="#c8c8c8" stroke-width="1.2"/>
<line x1="616.40" y1="1791.20" x2="896.60" y2="1791.20" stroke="#c8c8c8" stroke-width="1.2"/>
<line x1="616.40" y1="1570.60" x2="616.40" y2="1827.20" stroke="#c8c8c8" stroke-width="1.2"/>
<line x1="698.60" y1="1609.40" x2="698.60" y2="1827.20" stroke="#c8c8c8" stroke-width="1.2"/>
<line x1="781.40" y1="1609.40" x2="781.40" y2="1827.20" stroke="#c8c8c8" stroke-width="1.2"/>
<line x1="501.30" y1="1570.60" x2="896.60" y2="1570.60" stroke="#444" stroke-width="1.8"/>
<line x1="501.30" y1="1570.60" x2="501.30" y2="1827.20" stroke="#555" stroke-width="1.8"/>
<line x1="896.60" y1="1570.60" x2="896.60" y2="1827.20" stroke="#777" stroke-width="1.6"/>
<line x1="501.30" y1="1827.20" x2="896.60" y2="1827.20" stroke="#555" stroke-width="1.8"/>
<text transform="translate(506.56,1584.90) scale(1.2150,1)" font-family='"Liberation Sans", sans-serif' font-size="13.80" fill="#000">Equation</text>
<text transform="translate(622.92,1584.50) scale(1.2150,1)" font-family='"Liberation Sans", sans-serif' font-size="13.80" fill="#000">y = a + b*x</text>
<text transform="translate(507.82,1604.10) scale(1.2150,1)" font-family='"Liberation Sans", sans-serif' font-size="13.80" fill="#000">Weight</text>
<text transform="translate(621.66,1604.10) scale(1.2150,1)" font-family='"Liberation Sans", sans-serif' font-size="13.80" fill="#000">No Weighting</text>
<text transform="translate(506.56,1632.40) scale(1.2150,1)" font-family='"Liberation Sans", sans-serif' font-size="13.80" fill="#000">Residual Sum</text>
<text transform="translate(507.23,1648.70) scale(1.2150,1)" font-family='"Liberation Sans", sans-serif' font-size="13.80" fill="#000">of Squares</text>
<text transform="translate(622.98,1622.70) scale(1.2150,1)" font-family='"Liberation Sans", sans-serif' font-size="13.80" fill="#000">115.0417</text>
<text transform="translate(506.56,1677.20) scale(1.2150,1)" font-family='"Liberation Sans", sans-serif' font-size="13.80" fill="#000">Pearson&#39;s r</text>
<text transform="translate(640.33,1677.00) scale(1.2150,1)" font-family='"Liberation Sans", sans-serif' font-size="13.80" fill="#000">0.9352</text>
<text transform="translate(507.82,1704.90) scale(1.2150,1)" font-family='"Liberation Sans", sans-serif' font-size="13.80" fill="#000">Adj. R-Square</text>
<text transform="translate(631.03,1695.80) scale(1.2150,1)" font-family='"Liberation Sans", sans-serif' font-size="13.80" fill="#000">0.84952</text>
<text transform="translate(705.12,1731.90) scale(1.2150,1)" font-family='"Liberation Sans", sans-serif' font-size="13.80" fill="#000">Value</text>
<text transform="translate(787.25,1731.90) scale(1.2150,1)" font-family='"Liberation Sans", sans-serif' font-size="13.80" fill="#000">Standard Error</text>
<text transform="translate(621.49,1768.40) scale(1.2150,1)" font-family='"Liberation Sans", sans-serif' font-size="13.80" fill="#000">Intercept</text>
<text transform="translate(704.35,1768.40) scale(1.2150,1)" font-family='"Liberation Sans", sans-serif' font-size="13.80" fill="#000">85.31745</text>
<text transform="translate(838.33,1768.40) scale(1.2150,1)" font-family='"Liberation Sans", sans-serif' font-size="13.80" fill="#000">3.4197</text>
<text transform="translate(506.56,1795.60) scale(1.2150,1)" font-family='"Liberation Sans", sans-serif' font-size="13.80" fill="#000">B</text>
<text transform="translate(622.25,1804.90) scale(1.2150,1)" font-family='"Liberation Sans", sans-serif' font-size="13.80" fill="#000">Slope</text>
<text transform="translate(713.83,1804.90) scale(1.2150,1)" font-family='"Liberation Sans", sans-serif' font-size="13.80" fill="#000">0.92587</text>
<text transform="translate(828.94,1804.90) scale(1.2150,1)" font-family='"Liberation Sans", sans-serif' font-size="13.80" fill="#000">0.15679</text>
<line x1="105.00" y1="1976.00" x2="105.00" y2="2514.30" stroke="#000" stroke-width="2"/>
<line x1="104.00" y1="2513.30" x2="866.00" y2="2513.30" stroke="#000" stroke-width="2"/>
<line x1="105.00" y1="2513.30" x2="117.00" y2="2513.30" stroke="#000" stroke-width="2"/>
<text transform="translate(65.22,2520.56) scale(1.0500,1)" font-family='"Liberation Sans", sans-serif' font-size="23.30" font-weight="bold" stroke="#000" stroke-width="0.45" stroke-linejoin="round" fill="#000">80</text>
<line x1="105.00" y1="2448.40" x2="117.00" y2="2448.40" stroke="#000" stroke-width="2"/>
<text transform="translate(64.86,2455.66) scale(1.0500,1)" font-family='"Liberation Sans", sans-serif' font-size="23.30" font-weight="bold" stroke="#000" stroke-width="0.45" stroke-linejoin="round" fill="#000">85</text>
<line x1="105.00" y1="2383.50" x2="117.00" y2="2383.50" stroke="#000" stroke-width="2"/>
<text transform="translate(65.22,2390.76) scale(1.0500,1)" font-family='"Liberation Sans", sans-serif' font-size="23.30" font-weight="bold" stroke="#000" stroke-width="0.45" stroke-linejoin="round" fill="#000">90</text>
<line x1="105.00" y1="2318.60" x2="117.00" y2="2318.60" stroke="#000" stroke-width="2"/>
<text transform="translate(64.86,2325.86) scale(1.0500,1)" font-family='"Liberation Sans", sans-serif' font-size="23.30" font-weight="bold" stroke="#000" stroke-width="0.45" stroke-linejoin="round" fill="#000">95</text>
<line x1="105.00" y1="2253.70" x2="117.00" y2="2253.70" stroke="#000" stroke-width="2"/>
<text transform="translate(51.64,2260.96) scale(1.0500,1)" font-family='"Liberation Sans", sans-serif' font-size="23.30" font-weight="bold" stroke="#000" stroke-width="0.45" stroke-linejoin="round" fill="#000">100</text>
<line x1="105.00" y1="2188.80" x2="117.00" y2="2188.80" stroke="#000" stroke-width="2"/>
<text transform="translate(51.28,2196.06) scale(1.0500,1)" font-family='"Liberation Sans", sans-serif' font-size="23.30" font-weight="bold" stroke="#000" stroke-width="0.45" stroke-linejoin="round" fill="#000">105</text>
<line x1="105.00" y1="2123.90" x2="117.00" y2="2123.90" stroke="#000" stroke-width="2"/>
<text transform="translate(52.99,2131.16) scale(1.0500,1)" font-family='"Liberation Sans", sans-serif' font-size="23.30" font-weight="bold" stroke="#000" stroke-width="0.45" stroke-linejoin="round" fill="#000">110</text>
<line x1="105.00" y1="2059.00" x2="117.00" y2="2059.00" stroke="#000" stroke-width="2"/>
<text transform="translate(52.62,2066.26) scale(1.0500,1)" font-family='"Liberation Sans", sans-serif' font-size="23.30" font-weight="bold" stroke="#000" stroke-width="0.45" stroke-linejoin="round" fill="#000">115</text>
<line x1="105.00" y1="1994.10" x2="117.00" y2="1994.10" stroke="#000" stroke-width="2"/>
<text transform="translate(51.64,2001.36) scale(1.0500,1)" font-family='"Liberation Sans", sans-serif' font-size="23.30" font-weight="bold" stroke="#000" stroke-width="0.45" stroke-linejoin="round" fill="#000">120</text>
<line x1="105.00" y1="2480.85" x2="111.00" y2="2480.85" stroke="#000" stroke-width="2"/>
<line x1="105.00" y1="2415.95" x2="111.00" y2="2415.95" stroke="#000" stroke-width="2"/>
<line x1="105.00" y1="2351.05" x2="111.00" y2="2351.05" stroke="#000" stroke-width="2"/>
<line x1="105.00" y1="2286.15" x2="111.00" y2="2286.15" stroke="#000" stroke-width="2"/>
<line x1="105.00" y1="2221.25" x2="111.00" y2="2221.25" stroke="#000" stroke-width="2"/>
<line x1="105.00" y1="2156.35" x2="111.00" y2="2156.35" stroke="#000" stroke-width="2"/>
<line x1="105.00" y1="2091.45" x2="111.00" y2="2091.45" stroke="#000" stroke-width="2"/>
<line x1="105.00" y1="2026.55" x2="111.00" y2="2026.55" stroke="#000" stroke-width="2"/>
<line x1="105.00" y1="2513.30" x2="105.00" y2="2502.30" stroke="#000" stroke-width="2"/>
<text transform="translate(88.18,2541.50) scale(1.0500,1)" font-family='"Liberation Sans", sans-serif' font-size="23.30" font-weight="bold" stroke="#000" stroke-width="0.45" stroke-linejoin="round" fill="#000">3.0</text>
<line x1="185.00" y1="2513.30" x2="185.00" y2="2502.30" stroke="#000" stroke-width="2"/>
<text transform="translate(168.00,2541.50) scale(1.0500,1)" font-family='"Liberation Sans", sans-serif' font-size="23.30" font-weight="bold" stroke="#000" stroke-width="0.45" stroke-linejoin="round" fill="#000">3.5</text>
<line x1="265.00" y1="2513.30" x2="265.00" y2="2502.30" stroke="#000" stroke-width="2"/>
<text transform="translate(248.30,2541.50) scale(1.0500,1)" font-family='"Liberation Sans", sans-serif' font-size="23.30" font-weight="bold" stroke="#000" stroke-width="0.45" stroke-linejoin="round" fill="#000">4.0</text>
<line x1="345.00" y1="2513.30" x2="345.00" y2="2502.30" stroke="#000" stroke-width="2"/>
<text transform="translate(328.12,2541.50) scale(1.0500,1)" font-family='"Liberation Sans", sans-serif' font-size="23.30" font-weight="bold" stroke="#000" stroke-width="0.45" stroke-linejoin="round" fill="#000">4.5</text>
<line x1="425.00" y1="2513.30" x2="425.00" y2="2502.30" stroke="#000" stroke-width="2"/>
<text transform="translate(408.12,2541.50) scale(1.0500,1)" font-family='"Liberation Sans", sans-serif' font-size="23.30" font-weight="bold" stroke="#000" stroke-width="0.45" stroke-linejoin="round" fill="#000">5.0</text>
<line x1="505.00" y1="2513.30" x2="505.00" y2="2502.30" stroke="#000" stroke-width="2"/>
<text transform="translate(487.94,2541.50) scale(1.0500,1)" font-family='"Liberation Sans", sans-serif' font-size="23.30" font-weight="bold" stroke="#000" stroke-width="0.45" stroke-linejoin="round" fill="#000">5.5</text>
<line x1="585.00" y1="2513.30" x2="585.00" y2="2502.30" stroke="#000" stroke-width="2"/>
<text transform="translate(568.06,2541.50) scale(1.0500,1)" font-family='"Liberation Sans", sans-serif' font-size="23.30" font-weight="bold" stroke="#000" stroke-width="0.45" stroke-linejoin="round" fill="#000">6.0</text>
<line x1="665.00" y1="2513.30" x2="665.00" y2="2502.30" stroke="#000" stroke-width="2"/>
<text transform="translate(647.87,2541.50) scale(1.0500,1)" font-family='"Liberation Sans", sans-serif' font-size="23.30" font-weight="bold" stroke="#000" stroke-width="0.45" stroke-linejoin="round" fill="#000">6.5</text>
<line x1="745.00" y1="2513.30" x2="745.00" y2="2502.30" stroke="#000" stroke-width="2"/>
<text transform="translate(727.94,2541.50) scale(1.0500,1)" font-family='"Liberation Sans", sans-serif' font-size="23.30" font-weight="bold" stroke="#000" stroke-width="0.45" stroke-linejoin="round" fill="#000">7.0</text>
<line x1="825.00" y1="2513.30" x2="825.00" y2="2502.30" stroke="#000" stroke-width="2"/>
<text transform="translate(807.75,2541.50) scale(1.0500,1)" font-family='"Liberation Sans", sans-serif' font-size="23.30" font-weight="bold" stroke="#000" stroke-width="0.45" stroke-linejoin="round" fill="#000">7.5</text>
<line x1="145.00" y1="2513.30" x2="145.00" y2="2507.80" stroke="#000" stroke-width="2"/>
<line x1="225.00" y1="2513.30" x2="225.00" y2="2507.80" stroke="#000" stroke-width="2"/>
<line x1="305.00" y1="2513.30" x2="305.00" y2="2507.80" stroke="#000" stroke-width="2"/>
<line x1="385.00" y1="2513.30" x2="385.00" y2="2507.80" stroke="#000" stroke-width="2"/>
<line x1="465.00" y1="2513.30" x2="465.00" y2="2507.80" stroke="#000" stroke-width="2"/>
<line x1="545.00" y1="2513.30" x2="545.00" y2="2507.80" stroke="#000" stroke-width="2"/>
<line x1="625.00" y1="2513.30" x2="625.00" y2="2507.80" stroke="#000" stroke-width="2"/>
<line x1="705.00" y1="2513.30" x2="705.00" y2="2507.80" stroke="#000" stroke-width="2"/>
<line x1="785.00" y1="2513.30" x2="785.00" y2="2507.80" stroke="#000" stroke-width="2"/>
<line x1="865.00" y1="2513.30" x2="865.00" y2="2507.80" stroke="#000" stroke-width="2"/>
<text transform="translate(446.59,2586.30) scale(1.1434,1)" font-family='"Liberation Sans", sans-serif' font-size="27.10" font-weight="bold" stroke="#000" stroke-width="0.45" stroke-linejoin="round" fill="#000">Ln (t)</text>
<text transform="translate(29.60,2296.90) scale(1.0900,1) rotate(-90)" font-family='"Liberation Sans", sans-serif' font-size="27.50" font-weight="bold" stroke="#000" stroke-width="0.45" stroke-linejoin="round" fill="#000">q<tspan font-size="17.0" dy="10">e</tspan><tspan dy="-10"> (mg/g)</tspan></text>
<rect x="162.89" y="2466.81" width="12.60" height="11.20" fill="#000"/>
<rect x="273.80" y="2342.08" width="12.60" height="11.20" fill="#000"/>
<rect x="384.70" y="2300.28" width="12.60" height="11.20" fill="#000"/>
<rect x="495.60" y="2180.99" width="12.60" height="11.20" fill="#000"/>
<rect x="560.48" y="2149.58" width="12.60" height="11.20" fill="#000"/>
<rect x="736.25" y="2054.18" width="12.60" height="11.20" fill="#000"/>
<rect x="782.28" y="2021.60" width="12.60" height="11.20" fill="#000"/>
<line x1="169.19" y1="2445.53" x2="788.58" y2="2015.94" stroke="#d8262c" stroke-width="1.3"/>
<rect x="346.05" y="2033.45" width="53.40" height="58.20" fill="#fff" stroke="#000" stroke-width="1.7"/>
<text transform="translate(363.88,2067.60) scale(0.9328,1)" font-family='"Liberation Sans", sans-serif' font-size="24.63" font-weight="bold" stroke="#000" stroke-width="0.5" stroke-linejoin="round" fill="#000">d</text>
<rect x="500.50" y="2243.20" width="417.30" height="245.40" fill="#fff"/>
<line x1="500.50" y1="2283.40" x2="917.80" y2="2283.40" stroke="#c8c8c8" stroke-width="1.2"/>
<line x1="500.50" y1="2338.60" x2="917.80" y2="2338.60" stroke="#c8c8c8" stroke-width="1.2"/>
<line x1="500.50" y1="2358.00" x2="917.80" y2="2358.00" stroke="#c8c8c8" stroke-width="1.2"/>
<line x1="500.50" y1="2394.90" x2="917.80" y2="2394.90" stroke="#c8c8c8" stroke-width="1.2"/>
<line x1="500.50" y1="2432.30" x2="917.80" y2="2432.30" stroke="#c8c8c8" stroke-width="1.2"/>
<line x1="621.90" y1="2469.50" x2="917.80" y2="2469.50" stroke="#c8c8c8" stroke-width="1.2"/>
<line x1="621.90" y1="2243.20" x2="621.90" y2="2488.60" stroke="#c8c8c8" stroke-width="1.2"/>
<line x1="709.10" y1="2283.40" x2="709.10" y2="2488.60" stroke="#c8c8c8" stroke-width="1.2"/>
<line x1="795.30" y1="2283.40" x2="795.30" y2="2488.60" stroke="#c8c8c8" stroke-width="1.2"/>
<line x1="500.50" y1="2243.20" x2="917.80" y2="2243.20" stroke="#444" stroke-width="1.8"/>
<line x1="500.50" y1="2243.20" x2="500.50" y2="2488.60" stroke="#555" stroke-width="1.8"/>
<line x1="917.80" y1="2243.20" x2="917.80" y2="2488.60" stroke="#777" stroke-width="1.6"/>
<line x1="500.50" y1="2488.60" x2="917.80" y2="2488.60" stroke="#555" stroke-width="1.8"/>
<text transform="translate(505.40,2257.80) scale(1.1550,1)" font-family='"Liberation Sans", sans-serif' font-size="13.30" font-weight="bold" fill="#000">Equation</text>
<text transform="translate(627.65,2257.40) scale(1.1550,1)" font-family='"Liberation Sans", sans-serif' font-size="13.30" font-weight="bold" fill="#000">y = a + b*x</text>
<text transform="translate(506.40,2277.80) scale(1.1550,1)" font-family='"Liberation Sans", sans-serif' font-size="13.30" font-weight="bold" fill="#000">Weight</text>
<text transform="translate(626.80,2277.80) scale(1.1550,1)" font-family='"Liberation Sans", sans-serif' font-size="13.30" font-weight="bold" fill="#000">No Weighting</text>
<text transform="translate(505.40,2306.90) scale(1.1550,1)" font-family='"Liberation Sans", sans-serif' font-size="13.30" font-weight="bold" fill="#000">Residual Sum</text>
<text transform="translate(505.79,2322.80) scale(1.1550,1)" font-family='"Liberation Sans", sans-serif' font-size="13.30" font-weight="bold" fill="#000">of Squares</text>
<text transform="translate(637.66,2295.90) scale(1.1550,1)" font-family='"Liberation Sans", sans-serif' font-size="13.30" font-weight="bold" fill="#000">15.89792</text>
<text transform="translate(505.40,2352.10) scale(1.1550,1)" font-family='"Liberation Sans", sans-serif' font-size="13.30" font-weight="bold" fill="#000">Pearson&#39;s r</text>
<text transform="translate(654.63,2350.90) scale(1.1550,1)" font-family='"Liberation Sans", sans-serif' font-size="13.30" font-weight="bold" fill="#000">0.9913</text>
<text transform="translate(506.02,2380.70) scale(1.1550,1)" font-family='"Liberation Sans", sans-serif' font-size="13.30" font-weight="bold" fill="#000">Adj. R-Square</text>
<text transform="translate(654.71,2370.40) scale(1.1550,1)" font-family='"Liberation Sans", sans-serif' font-size="13.30" font-weight="bold" fill="#000">0.9792</text>
<text transform="translate(714.85,2407.60) scale(1.1550,1)" font-family='"Liberation Sans", sans-serif' font-size="13.30" font-weight="bold" fill="#000">Value</text>
<text transform="translate(800.74,2407.60) scale(1.1550,1)" font-family='"Liberation Sans", sans-serif' font-size="13.30" font-weight="bold" fill="#000">Standard Error</text>
<text transform="translate(626.80,2445.60) scale(1.1550,1)" font-family='"Liberation Sans", sans-serif' font-size="13.30" font-weight="bold" fill="#000">Intercept</text>
<text transform="translate(723.63,2444.70) scale(1.1550,1)" font-family='"Liberation Sans", sans-serif' font-size="13.30" font-weight="bold" fill="#000">56.14271</text>
<text transform="translate(854.65,2444.70) scale(1.1550,1)" font-family='"Liberation Sans", sans-serif' font-size="13.30" font-weight="bold" fill="#000">2.83095</text>
<text transform="translate(505.40,2465.00) scale(1.1550,1)" font-family='"Liberation Sans", sans-serif' font-size="13.30" font-weight="bold" fill="#000">B</text>
<text transform="translate(627.34,2482.30) scale(1.1550,1)" font-family='"Liberation Sans", sans-serif' font-size="13.30" font-weight="bold" fill="#000">Slope</text>
<text transform="translate(740.37,2481.40) scale(1.1550,1)" font-family='"Liberation Sans", sans-serif' font-size="13.30" font-weight="bold" fill="#000">8.5494</text>
<text transform="translate(854.34,2481.40) scale(1.1550,1)" font-family='"Liberation Sans", sans-serif' font-size="13.30" font-weight="bold" fill="#000">0.50774</text>
</svg>
</body></html>
